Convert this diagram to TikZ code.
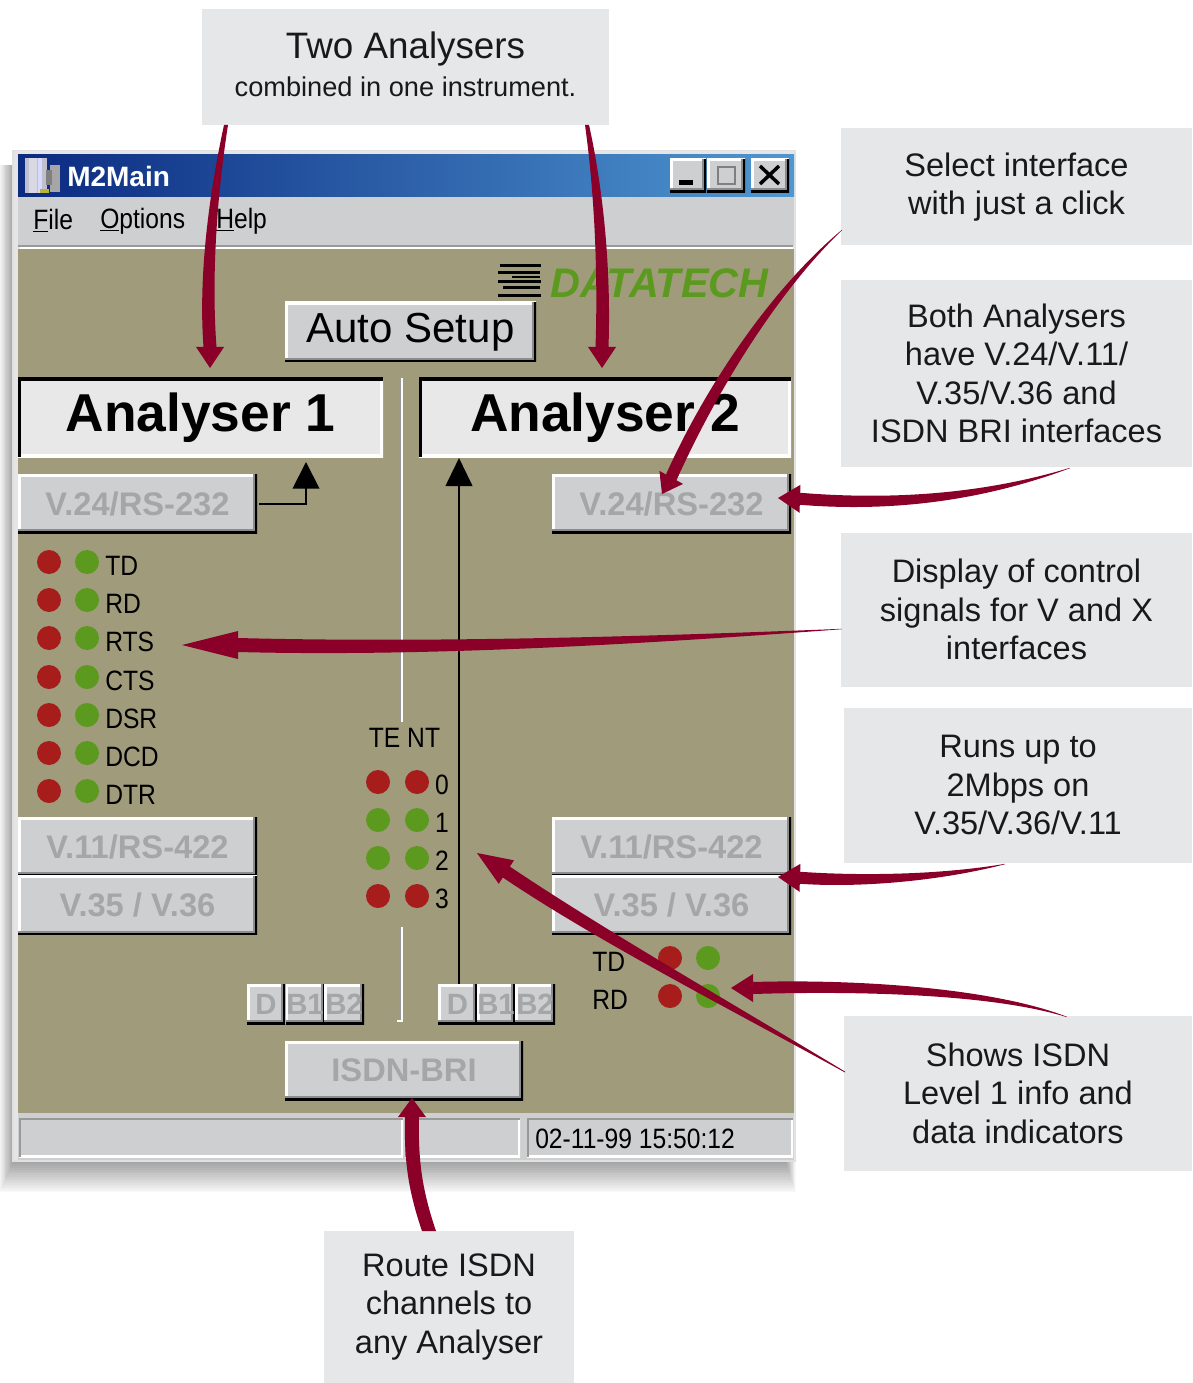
\documentclass[tikz,border=0pt]{standalone}
\usepackage{fontspec}
\setmainfont{Liberation Sans}
\newfontfamily\uifont[FakeStretch=0.88]{Liberation Sans}
\usetikzlibrary{calc,arrows.meta}
\definecolor{callgrey}{HTML}{E6E7E9}
\definecolor{uigrey}{HTML}{CDCFD0}
\definecolor{panel}{HTML}{A09B7B}
\definecolor{ledred}{HTML}{A61D1B}
\definecolor{ledgreen}{HTML}{5B9A1E}
\definecolor{arrowred}{HTML}{8B0029}
\definecolor{dimtext}{HTML}{A4A6A7}
\definecolor{titleL}{HTML}{0B2A80}
\definecolor{titleR}{HTML}{4F97D2}
\newcommand\fpx[1]{\fontsize{#1}{#1}\selectfont}
\tikzset{
  callout/.style={rectangle,fill=callgrey,inner sep=0pt,align=center,text=black!90},
  calltext/.style={font=\fontsize{24.4}{28.9}\selectfont},
  winbtn/.style={rectangle,inner sep=0pt,fill=uigrey,path picture={
    \draw[white,line width=4pt] (path picture bounding box.south west)--(path picture bounding box.north west)--(path picture bounding box.north east);
    \draw[black!45,line width=6pt] (path picture bounding box.south west)--(path picture bounding box.south east)--(path picture bounding box.north east);
    \draw[black,line width=3pt] (path picture bounding box.south west)--(path picture bounding box.south east)--(path picture bounding box.north east);}},
  dimbtn/.style={winbtn,text=dimtext,font=\bfseries\fontsize{24.5}{26}\selectfont},
  sunken/.style={rectangle,inner sep=0pt,fill=#1,path picture={
    \draw[white,line width=4pt] (path picture bounding box.south west)--(path picture bounding box.south east)--(path picture bounding box.north east);
    \draw[black,line width=4pt] (path picture bounding box.south west)--(path picture bounding box.north west)--(path picture bounding box.north east);}},
  field/.style={rectangle,inner sep=0pt,fill=uigrey,path picture={
    \draw[white,line width=3pt] (path picture bounding box.south west)--(path picture bounding box.south east)--(path picture bounding box.north east);
    \draw[black!40,line width=3pt] (path picture bounding box.south west)--(path picture bounding box.north west)--(path picture bounding box.north east);}},
  led/.style={circle,inner sep=0pt,minimum size=18pt,fill=#1},
  uilabel/.style={inner sep=0pt,font=\uifont\fontsize{21}{23}\selectfont,text=black},
  redarrow/.style={fill=arrowred},
  feed/.style={black,line width=1.5pt}
}
% start, c1, c2, tip, angle at tip, shaft half, start half, head length, head half
\newcommand\redtaper[9]{%
  \fill[redarrow]
    ($(#1)+(#5+90:#7)$) .. controls ($(#2)+(#5+90:{(#6+#7)/2})$) and ($(#3)+(#5+90:#6)$) ..
    ($(#4)+(#5+180:#8)+(#5+90:#6)$) -- ($(#4)+(#5+180:#8)+(#5+90:#9)$) -- (#4) --
    ($(#4)+(#5+180:#8)+(#5-90:#9)$) -- ($(#4)+(#5+180:#8)+(#5-90:#6)$) ..
    controls ($(#3)+(#5-90:#6)$) and ($(#2)+(#5-90:{(#6+#7)/2})$) ..
    ($(#1)+(#5-90:#7)$) -- cycle;}
\begin{document}
\begin{tikzpicture}[x=0.75pt,y=-0.75pt]
\useasboundingbox (0,0) rectangle (1192,1383);
\fill[white] (0,0) rectangle (1192,1383);
% shadow
\foreach \k in {1,...,16}{
  \fill[black,opacity=0.022] ({13-\k*0.85},165) rectangle ({786+\k*0.6},{1162+\k*1.9});
}
% window
\fill[black!12] (12,150) rectangle (796,1162);
\fill[white!90!black] (14,151) rectangle (795,1160);
\shade[left color=titleL,right color=titleR] (18,155) rectangle (794,197);
\fill[uigrey] (18,197) rectangle (794,246);
\fill[black!40] (18,245) rectangle (793,247);
\fill[white] (20,247) rectangle (793,249);
\fill[panel] (18,249) rectangle (794,1113);
\fill[uigrey] (18,1113) rectangle (794,1160);
% icon
\fill[black!35] (50,165) rectangle (60,192);
\fill[blue!25!black!25] (25,158) rectangle (47,193);
\fill[blue!30!black!15] (29,158) rectangle (37,193);
\fill[white!85!blue] (38,158) -- (42,158) -- (42,193) -- (38,193) -- cycle;
\fill[black!50] (46,170) rectangle (52,185);
\fill[yellow!70!black] (40,189) rectangle (49,193);
% title and menu
\node[anchor=west,inner sep=0pt,text=white,font=\bfseries\fontsize{21}{23}\selectfont] (title) at (67,176) {M2Main};
\node[winbtn,minimum width=27pt,minimum height=25pt] (minb) at (688,175.5) {};
\node[winbtn,minimum width=28.5pt,minimum height=25pt] (maxb) at (726,175.5) {};
\node[winbtn,minimum width=28.5pt,minimum height=25pt] (closeb) at (770,175.5) {};
\fill[black] (679,180) rectangle (693,185);
\draw[black!50,line width=2pt] (718,167) rectangle (735,184);
\draw[black,line width=2.6pt] (760,166) -- (779,184) (779,166) -- (760,184);
\node[uilabel,anchor=west] (mfile) at (33,221) {\underline{F}ile};
\node[uilabel,anchor=west] (mopt) at (100,221) {\underline{O}ptions};
\node[uilabel,anchor=west] (mhelp) at (216,221) {\underline{H}elp};
% logo
\fill[black] (500,264) rectangle (541,267);
\fill[black] (498,271) rectangle (540,274);
\fill[black] (512,276) rectangle (540,278);
\fill[black] (498,280) rectangle (541,283);
\fill[black] (503,286) rectangle (540,289);
\fill[black] (498,294) rectangle (541,297);
\node[anchor=west,inner sep=0pt,text=ledgreen,font=\bfseries\itshape\fontsize{31}{33}\selectfont] (logo) at (550,283) {DATATECH};
% buttons
\node[winbtn,minimum width=188.25pt,minimum height=45pt,font=\fontsize{31.5}{33}\selectfont] (auto) at (410.5,332) {Auto Setup};
\node[sunken=black!9,minimum width=273.75pt,minimum height=59.25pt,font=\bfseries\fontsize{40}{42}\selectfont] (an1) at (200.5,417.5) {Analyser 1};
\node[sunken=black!9,minimum width=279pt,minimum height=59.25pt,font=\bfseries\fontsize{40}{42}\selectfont] (an2) at (605,417.5) {Analyser 2};
\node[dimbtn,minimum width=179.25pt,minimum height=44.25pt] (v24l) at (137.5,503.5) {V.24/RS-232};
\node[dimbtn,minimum width=179.25pt,minimum height=44.25pt] (v24r) at (671.5,503.5) {V.24/RS-232};
\node[dimbtn,minimum width=179.25pt,minimum height=44.25pt] (v11l) at (137.5,846.5) {V.11/RS-422};
\node[dimbtn,minimum width=179.25pt,minimum height=44.25pt] (v35l) at (137.5,905) {V.35 / V.36};
\node[dimbtn,minimum width=179.25pt,minimum height=44.25pt] (v11r) at (671.5,846.5) {V.11/RS-422};
\node[dimbtn,minimum width=179.25pt,minimum height=44.25pt] (v35r) at (671.5,905) {V.35 / V.36};
\node[dimbtn,minimum width=178.5pt,minimum height=44.25pt] (isdn) at (404,1070.5) {ISDN-BRI};
\node[dimbtn,minimum width=28.5pt,minimum height=30pt,font=\bfseries\fontsize{22}{24}\selectfont] (dl) at (266,1004) {D};
\node[dimbtn,minimum width=29.25pt,minimum height=30pt,font=\bfseries\fontsize{22}{24}\selectfont] (b1l) at (305,1004) {B1};
\node[dimbtn,minimum width=30pt,minimum height=30pt,font=\bfseries\fontsize{22}{24}\selectfont] (b2l) at (344,1004) {B2};
\node[dimbtn,minimum width=29.25pt,minimum height=30pt,font=\bfseries\fontsize{22}{24}\selectfont] (dr) at (457.5,1004) {D};
\node[dimbtn,minimum width=28.5pt,minimum height=30pt,font=\bfseries\fontsize{22}{24}\selectfont] (b1r) at (496,1004) {B1};
\node[dimbtn,minimum width=30pt,minimum height=30pt,font=\bfseries\fontsize{22}{24}\selectfont] (b2r) at (535,1004) {B2};
% divider
\draw[black!40,line width=1.5pt] (400,378) -- (400,722) (400,927) -- (400,1020);
\draw[white,line width=1.5pt] (402,378) -- (402,722) (402,927) -- (402,1021) -- (397,1021);
% feeds
\coordinate (a1in) at (306,462);
\coordinate (a2in) at (459,458);
\draw[feed,-{Triangle[length=20pt,width=20pt]}] (259,504) -- (306,504) -- (a1in);
\draw[feed,-{Triangle[length=21pt,width=20pt]}] (dr.north -| a2in) -- (a2in);
% LEDs left
\foreach \n/\y/\ty/\t in {a/562/566/TD,b/600/604/RD,c/638/642/RTS,d/677/681/CTS,e/715/719/DSR,f/753/757/DCD,g/791/795/DTR}{
  \node[led=ledred] (lr\n) at (49,\y) {};
  \node[led=ledgreen] (lg\n) at (87,\y) {};
  \node[uilabel,anchor=west] (lt\n) at (105,\ty) {\t};
}
\node[uilabel,anchor=center] (tent) at (404.5,738) {TE NT};
\foreach \n/\y/\ty/\c in {0/782/785/ledred,1/820/823/ledgreen,2/858/861/ledgreen,3/896/899/ledred}{
  \node[led=\c] (te\n) at (378,\y) {};
  \node[led=\c] (nt\n) at (417,\y) {};
  \node[uilabel] (num\n) at (442,\ty) {\n};
}
\node[uilabel,anchor=west] (rtd) at (592,962) {TD};
\node[uilabel,anchor=west] (rrd) at (592,1000) {RD};
\node[led=ledred] (trr) at (670,958) {};
\node[led=ledgreen] (trg) at (708,958) {};
\node[led=ledred] (rrr) at (670,996) {};
\node[led=ledgreen] (rrg) at (708,996) {};
% status
\node[field,minimum width=288pt,minimum height=29.25pt] (st1) at (211,1137.5) {};
\node[field,minimum width=86.25pt,minimum height=29.25pt] (st2) at (462.5,1137.5) {};
\node[field,minimum width=199.5pt,minimum height=29.25pt] (st3) at (660,1137.5) {};
\node[uilabel,anchor=west] (date) at (535,1139) {02-11-99 15:50:12};
% callouts
\node[callout,minimum width=305.25pt,minimum height=87pt] (c1) at (405.5,67) {};
\node[anchor=base,inner sep=0pt,font=\fontsize{27.6}{30}\selectfont,text=black!90] (c1a) at (405.5,59) {Two Analysers};
\node[anchor=base,inner sep=0pt,font=\fontsize{20.4}{22}\selectfont,text=black!90] (c1b) at (405.5,97) {combined in one instrument.};
\node[callout,calltext,minimum width=263.25pt,minimum height=87.75pt] (c2) at (1016.5,187) {Select interface\\with just a click};
\node[callout,calltext,minimum width=263.25pt,minimum height=140.25pt] (c3) at (1016.5,373.5) {Both Analysers\\have V.24/V.11/\\V.35/V.36 and\\ISDN BRI interfaces};
\node[callout,calltext,minimum width=263.25pt,minimum height=115.5pt] (c4) at (1016.5,609.5) {Display of control\\signals for V and X\\interfaces};
\node[callout,calltext,minimum width=261pt,minimum height=116.25pt] (c5) at (1018,785) {Runs up to\\2Mbps on\\V.35/V.36/V.11};
\node[callout,calltext,minimum width=261pt,minimum height=116.25pt] (c6) at (1018,1093) {Shows ISDN\\Level 1 info and\\data indicators};
\node[callout,calltext,minimum width=187.5pt,minimum height=114pt] (c7) at (449,1307) {Route ISDN\\channels to\\any Analyser};
% red arrows
\coordinate (s1) at (226,125); \coordinate (t1) at (210,368);
\coordinate (s2) at (587,125); \coordinate (t2) at (602,368);
\coordinate (s3) at (842,230); \coordinate (t3) at (662,494);
\coordinate (s4) at (1070,468); \coordinate (t4) at (778,498);
\coordinate (s5) at (842,629); \coordinate (t5) at (182,645);
\coordinate (s6) at (1005,864); \coordinate (t6) at (778,877);
\coordinate (s7) at (1067,1017); \coordinate (t7) at (731,988);
\coordinate (s8) at (845,1072); \coordinate (t8) at (477,853);
\coordinate (s9) at (429,1231); \coordinate (t9) at (412,1098);
\redtaper{s1}{212,200}{205,280}{t1}{90}{6.5}{2}{21}{14}
\redtaper{s2}{597,180}{605,260}{t2}{90}{6.5}{2}{21}{14}
\redtaper{s3}{780,285}{715,380}{t3}{119}{6}{0.2}{19}{13.5}
\redtaper{s4}{990,495}{900,507}{t4}{182}{6}{0.2}{22}{14}
\redtaper{s5}{650,640}{430,650}{t5}{180}{7}{0.2}{56}{14}
\redtaper{s6}{940,878}{860,882}{t6}{182}{6}{0.2}{22}{14}
\redtaper{s7}{990,990}{850,985}{t7}{180}{6}{0.2}{22}{14}
\redtaper{s8}{720,1000}{600,935}{t8}{213}{6.5}{0.4}{35}{14}
\redtaper{s9}{415,1190}{411,1160}{t9}{270}{7}{7}{19}{14}
\end{tikzpicture}
\end{document}
